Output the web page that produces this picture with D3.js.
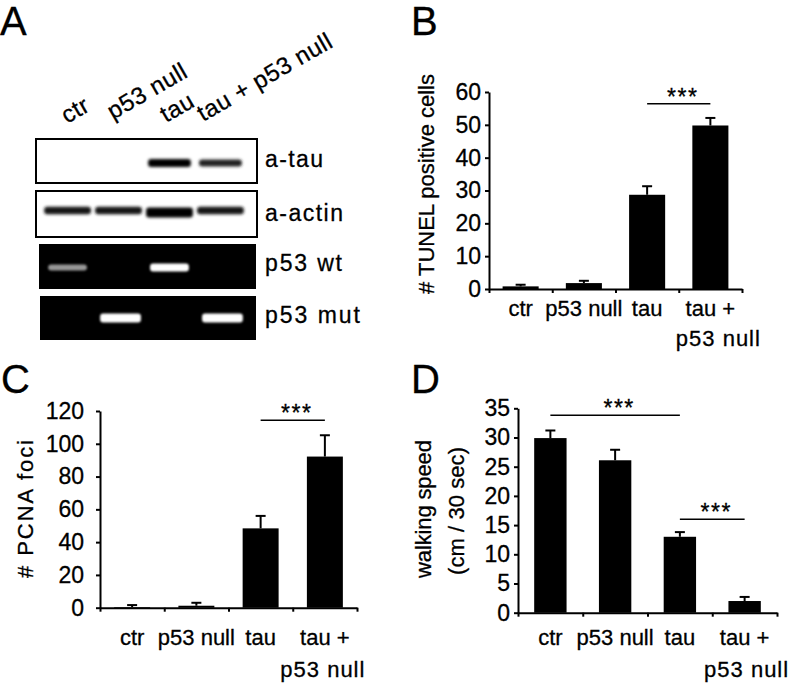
<!DOCTYPE html>
<html><head><meta charset="utf-8">
<script src="https://cdn.jsdelivr.net/npm/d3@7"></script>
<style>
html,body{margin:0;padding:0;background:#fff;}
svg{display:block;font-family:"Liberation Sans",Arial,Helvetica,sans-serif;}
text{fill:#000;stroke:#000;stroke-width:0.3px;}
</style></head>
<body>
<svg id="fig" width="796" height="685"></svg>
<script>
// ---------- data ----------
const categories = ["ctr", "p53 null", "tau", "tau + p53 null"];
const xLabelLines = [["ctr"], ["p53 null"], ["tau"], ["tau +", "p53 null"]];

const tunelMean = [0.8, 1.8, 28.7, 49.8];
const tunelErr  = [0.5, 0.7, 2.6, 2.3];
const tunelTicks = [0, 10, 20, 30, 40, 50, 60];

const pcnaMean = [0.4, 1.2, 48.4, 92.2];
const pcnaErr  = [1.2, 1.8, 7.6, 13.0];
const pcnaTicks = [0, 20, 40, 60, 80, 100, 120];

const speedMean = [29.9, 26.1, 13.0, 2.0];
const speedErr  = [1.3, 1.8, 0.8, 0.7];
const speedTicks = [0, 5, 10, 15, 20, 25, 30, 35];

// significance brackets: [from category, to category, height in data units]
const tunelSig = [["tau", "tau + p53 null", 56.4]];
const pcnaSig  = [["tau", "tau + p53 null", 114.3]];
const speedSig = [["ctr", "tau", 33.8], ["tau", "tau + p53 null", 16.0]];

// blot panel
const lanes = ["ctr", "p53 null", "tau", "tau + p53 null"];
const blotRows = ["a-tau", "a-actin", "p53 wt", "p53 mut"];
const tauBand   = [0, 0, 1, 0.75];
const actinBand = [0.85, 0.85, 1, 0.85];
const p53wtBand = [0.5, 0, 1, 0];
const p53mutBand = [0, 1, 0, 1];

// ---------- drawing ----------
const svg = d3.select("#fig");
const defs = svg.append("defs");
defs.append("filter").attr("id", "blur").attr("x", "-20%").attr("y", "-100%").attr("width", "140%").attr("height", "300%")
  .append("feGaussianBlur").attr("stdDeviation", 1.6);
defs.append("filter").attr("id", "blur2").attr("x", "-20%").attr("y", "-100%").attr("width", "140%").attr("height", "300%")
  .append("feGaussianBlur").attr("stdDeviation", 1.1);

// panel letters
const letters = [["A", 0, 35], ["B", 411, 35], ["C", 1, 393], ["D", 411, 393]];
svg.selectAll("text.letter").data(letters).join("text")
  .attr("class", "letter").attr("x", d => d[1]).attr("y", d => d[2])
  .attr("font-size", 40).text(d => d[0]);

// ---- Panel A: blot ----
const lane = d3.scaleBand().domain(lanes).range([38, 250]).padding(0.16);
const A = svg.append("g");
const frames = [
  {y0: 139, y1: 183, x0: 36, x1: 257, dark: false, data: tauBand, row: 0},
  {y0: 191, y1: 237, x0: 36, x1: 257, dark: false, data: actinBand, row: 1},
  {y0: 244, y1: 289, x0: 39, x1: 256, dark: true, data: p53wtBand, row: 2},
  {y0: 296, y1: 340, x0: 40, x1: 256, dark: true, data: p53mutBand, row: 3}
];
frames.forEach(f => {
  A.append("rect").attr("x", f.x0).attr("y", f.y0).attr("width", f.x1 - f.x0).attr("height", f.y1 - f.y0)
    .attr("fill", f.dark ? "#000" : "#fff").attr("stroke", "#000").attr("stroke-width", f.dark ? 0 : 2);
});
const bandLayout = [
  {cy: 163, h: 8, w: 0},
  {cy: 210.5, h: 8, w: 4},
  {cy: 267.5, h: 8, w: -4},
  {cy: 318, h: 9, w: -2}
];
frames.forEach(f => {
  const L = bandLayout[f.row];
  const g = A.append("g").attr("filter", f.row >= 2 ? "url(#blur2)" : "url(#blur)");
  g.selectAll("rect").data(f.data.map((v, i) => ({v, i})).filter(d => d.v > 0)).join("rect")
    .attr("x", d => lane(lanes[d.i]) - L.w / 2 + (f.row === 3 ? 2 : 0))
    .attr("width", lane.bandwidth() + L.w)
    .attr("y", d => L.cy - (L.h * (0.5 + 0.5 * d.v)) / 2 - (f.row === 1 && d.v === 1 ? -1 : 0))
    .attr("height", d => L.h * (0.5 + 0.5 * d.v) + (f.row === 1 && d.v === 1 ? 2 : 0))
    .attr("rx", 3)
    .attr("fill", d => f.dark ? d3.interpolateGreys(1 - d.v) : d3.interpolateGreys(0.55 + 0.45 * d.v));
});
const rowLabelY = [167, 221, 271, 323];
const rowLabelW = [58, 78, 77, 95];
A.selectAll("text.row").data(blotRows).join("text").attr("class", "row")
  .attr("x", 265).attr("y", (d, i) => rowLabelY[i]).attr("font-size", 23)
  .attr("textLength", (d, i) => rowLabelW[i]).attr("lengthAdjust", "spacing")
  .text(d => d);
const laneLabelPos = [[67, 124], [113, 120], [166, 123], [203, 122]];
A.selectAll("text.lane").data(lanes).join("text").attr("class", "lane")
  .attr("font-size", 24).attr("letter-spacing", 0.5)
  .attr("transform", (d, i) => `translate(${laneLabelPos[i][0]},${laneLabelPos[i][1]}) rotate(-30)`)
  .text(d => d);

// ---- bar panel helper ----
function barPanel(cfg) {
  const g = svg.append("g");
  const x = d3.scaleBand().domain(categories).range([cfg.x0, cfg.x1]).paddingInner(cfg.pad).paddingOuter(cfg.pad / 2);
  const y = d3.scaleLinear().domain([0, cfg.max]).range([cfg.yb, cfg.yt]);
  const xb = d3.scaleLinear().domain([0, categories.length]).range([cfg.x0, cfg.x1]);

  g.selectAll("rect.bar").data(cfg.mean).join("rect").attr("class", "bar")
    .attr("x", (d, i) => x(categories[i])).attr("width", x.bandwidth())
    .attr("y", d => y(d)).attr("height", d => cfg.yb - y(d)).attr("fill", "#000");
  const eb = g.selectAll("g.err").data(cfg.mean.map((m, i) => ({m, e: cfg.err[i], c: categories[i]}))).join("g").attr("class", "err");
  eb.append("line").attr("x1", d => x(d.c) + x.bandwidth() / 2).attr("x2", d => x(d.c) + x.bandwidth() / 2)
    .attr("y1", d => y(d.m)).attr("y2", d => y(d.m + d.e)).attr("stroke", "#000").attr("stroke-width", 2);
  eb.append("line").attr("x1", d => x(d.c) + x.bandwidth() / 2 - 5).attr("x2", d => x(d.c) + x.bandwidth() / 2 + 5)
    .attr("y1", d => y(d.m + d.e)).attr("y2", d => y(d.m + d.e)).attr("stroke", "#000").attr("stroke-width", 2);

  const ya = g.append("g").attr("transform", `translate(${cfg.x0},0)`)
    .call(d3.axisLeft(y).tickValues(cfg.ticks).tickSize(4).tickSizeOuter(0).tickPadding(cfg.gap));
  ya.select(".domain").attr("stroke-width", 2);
  ya.selectAll(".tick line").attr("stroke-width", 2);
  ya.selectAll(".tick text").attr("font-size", 23).attr("font-family", "Liberation Sans, Arial, sans-serif").attr("fill", "#000");
  const xa = g.append("g").attr("transform", `translate(0,${cfg.yb})`)
    .call(d3.axisBottom(xb).tickValues(d3.range(0, categories.length + 1)).tickFormat("").tickSize(4).tickSizeOuter(0));
  xa.select(".domain").attr("stroke-width", 2);
  xa.selectAll(".tick line").attr("stroke-width", 2);

  const xl = g.selectAll("text.xl").data(xLabelLines).join("text").attr("class", "xl")
    .attr("font-size", 22).attr("text-anchor", "middle");
  xl.each(function (lines, i) {
    const t = d3.select(this);
    lines.forEach((s, k) => {
      t.append("tspan").attr("x", x(categories[i]) + x.bandwidth() / 2 + (k === 1 ? cfg.l2dx : 0))
        .attr("y", cfg.yb + cfg.lab1 + k * cfg.lab2)
        .attr("letter-spacing", k === 1 ? 1 : 0).text(s);
    });
  });

  cfg.ylabel.forEach(l => {
    g.append("text").attr("transform", `translate(${l.x},${l.cy}) rotate(-90)`)
      .attr("text-anchor", "middle").attr("font-size", 22)
      .attr("textLength", l.len).attr("lengthAdjust", l.adj || "spacing").text(l.t);
  });

  cfg.sig.forEach(s => {
    const xa1 = x(s[0]) + x.bandwidth() / 2, xa2 = x(s[1]) + x.bandwidth() / 2;
    g.append("line").attr("x1", xa1).attr("x2", xa2).attr("y1", y(s[2])).attr("y2", y(s[2]))
      .attr("stroke", "#000").attr("stroke-width", 1.5);
    g.append("text").attr("x", (xa1 + xa2) / 2 + 4).attr("y", y(s[2]) + 1).attr("text-anchor", "middle")
      .attr("font-size", 23).attr("letter-spacing", 1.5).attr("stroke-width", 0).text("***");
  });
}

barPanel({x0: 489, x1: 742, yb: 289, yt: 92, max: 60, ticks: tunelTicks, mean: tunelMean, err: tunelErr,
  pad: 0.43, gap: 4, lab1: 27, lab2: 30, l2dx: 8, sig: tunelSig,
  ylabel: [{t: "# TUNEL positive cells", x: 434, cy: 184, len: 220, adj: "spacingAndGlyphs"}]});

barPanel({x0: 100, x1: 357, yb: 607.7, yt: 411, max: 120, ticks: pcnaTicks, mean: pcnaMean, err: pcnaErr,
  pad: 0.44, gap: 12, lab1: 37, lab2: 32, l2dx: -2, sig: pcnaSig,
  ylabel: [{t: "# PCNA foci", x: 33, cy: 509, len: 138}]});

barPanel({x0: 518, x1: 777, yb: 612.7, yt: 408.3, max: 35, ticks: speedTicks, mean: speedMean, err: speedErr,
  pad: 0.5, gap: 4, lab1: 32, lab2: 32, l2dx: 2, sig: speedSig,
  ylabel: [{t: "walking speed", x: 431, cy: 509, len: 138}, {t: "(cm / 30 sec)", x: 464, cy: 511, len: 128}]});
</script>
</body></html>
